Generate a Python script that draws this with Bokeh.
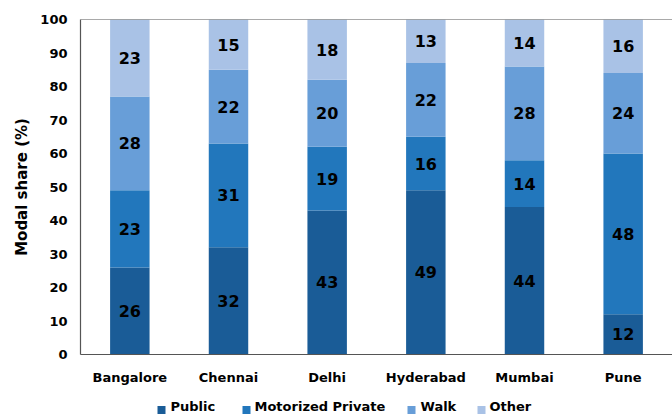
from bokeh.plotting import figure
from bokeh.layouts import column
from bokeh.models import FactorRange, Span, ColumnDataSource, Range1d
from bokeh.core.properties import value
from bokeh.embed import file_html
from bokeh.resources import INLINE

cities = ["Bangalore", "Chennai", "Delhi", "Hyderabad", "Mumbai", "Pune"]
modes = ["Public", "Motorized Private", "Walk", "Other"]
public = [26, 32, 43, 49, 44, 12]
motorized = [23, 31, 19, 16, 14, 48]
walk = [28, 22, 20, 22, 28, 24]
other = [23, 15, 18, 13, 14, 16]
colors = ["#1A5C97", "#2277BC", "#689ED8", "#A9C2E6"]

FONT = "DejaVu Sans"

data = {"city": cities, "Public": public, "Motorized Private": motorized, "Walk": walk, "Other": other}
src = ColumnDataSource(data)

p = figure(x_range=FactorRange(*cities, range_padding=0), y_range=Range1d(0, 100),
           width=672, height=396, output_backend="svg", toolbar_location=None,
           min_border_left=80, min_border_right=0, min_border_top=19, min_border_bottom=42)

renderers = p.vbar_stack(modes, x="city", width=0.4, color=colors, source=src, line_color=None)

# labels in segment middles
series = [public, motorized, walk, other]
bottoms = [0] * len(cities)
lx, ly, lt = [], [], []
for s in series:
    for i, c in enumerate(cities):
        lx.append(c)
        ly.append(bottoms[i] + s[i] / 2)
        lt.append(str(s[i]))
    bottoms = [b + v for b, v in zip(bottoms, s)]
p.text(x=lx, y=ly, text=lt, text_align="center", text_baseline="middle",
       text_font=value(FONT), text_font_style="bold", text_font_size="16px", text_color="black")

p.outline_line_color = None
p.grid.grid_line_color = None
p.add_layout(Span(location=100, dimension="width", line_color="#555555", line_width=1.2))

p.yaxis.ticker = list(range(0, 101, 10))
p.yaxis.axis_label = "Modal share (%)"
for ax in [p.xaxis[0], p.yaxis[0]]:
    ax.major_label_text_font = FONT
    ax.major_label_text_font_style = "bold"
    ax.major_label_text_font_size = "13px"
    ax.major_label_text_color = "black"
    ax.major_tick_line_color = None
    ax.major_tick_out = 0
    ax.minor_tick_line_color = None
    ax.minor_tick_out = 0
    ax.axis_line_color = "#555555"
    ax.axis_line_width = 1.2
p.yaxis.axis_label_text_font = FONT
p.yaxis.axis_label_text_font_style = "bold"
p.yaxis.axis_label_text_font_size = "15px"
p.yaxis.axis_label_text_color = "black"
p.yaxis.major_label_standoff = 13
p.yaxis.axis_label_standoff = 6
p.xaxis.major_label_standoff = 15

# legend strip: its frame is aligned with the main frame (x 80..672), so the
# range is set in page pixels; y measured from the strip's top
legend_square_left = [157, 242, 407, 477]
legend_text_left = [170, 254, 420, 489]
lg = figure(width=672, height=18, x_range=Range1d(80, 672), y_range=Range1d(18, 0),
            output_backend="svg", toolbar_location=None,
            min_border_left=80, min_border_right=0, min_border_top=0, min_border_bottom=0)
lg.axis.visible = False
lg.grid.grid_line_color = None
lg.outline_line_color = None
lg.rect(x=[v + 4 for v in legend_square_left], y=[13.5] * 4, width=8, height=8,
        width_units="screen", height_units="screen", color=colors, line_color=None)
lg.text(x=legend_text_left, y=[10] * 4, text=modes, text_align="left", text_baseline="middle",
        text_font=value(FONT), text_font_style="bold", text_font_size="13px", text_color="black")

layout = column(p, lg, spacing=0)
open("out.html", "w").write(file_html(layout, INLINE))
